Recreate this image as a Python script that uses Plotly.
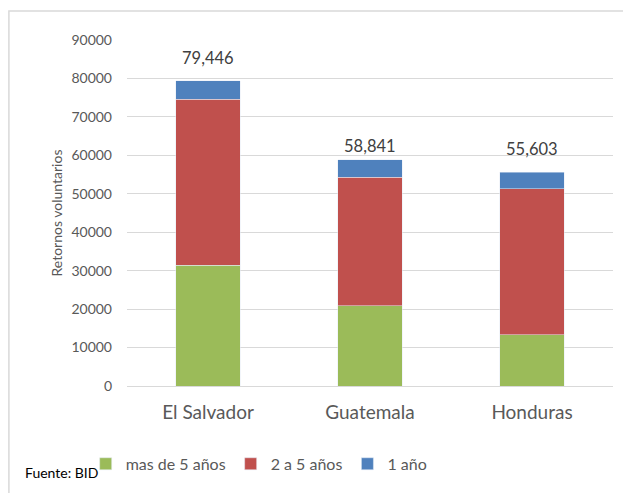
"""Retornos voluntarios por país, barras apiladas."""

import plotly.graph_objects as go

paises = ['El Salvador', 'Guatemala', 'Honduras']
mas_de_5 = [31370, 20890, 13270]
dos_a_5 = [43190, 33410, 38060]
un_ano = [4886, 4541, 4273]
totales = [79446, 58841, 55603]
etiquetas = ['79,446', '58,841', '55,603']

FONT = 'Lato'
GRIS = '#595959'
DESPLAZ = [11, 2, 11]  # separación de cada etiqueta sobre su barra

fig = go.Figure()
fig.add_trace(go.Bar(x=paises, y=mas_de_5, name='mas de 5 años', marker_color='#9bbb59'))
fig.add_trace(go.Bar(x=paises, y=dos_a_5, name='2 a 5 años', marker_color='#c0504d'))
fig.add_trace(go.Bar(x=paises, y=un_ano, name='1 año', marker_color='#4f81bd'))

for pais, total, texto, dy in zip(paises, totales, etiquetas, DESPLAZ):
    fig.add_annotation(x=pais, y=total, text=texto, showarrow=False,
                       yanchor='bottom', yshift=dy,
                       font=dict(family=FONT, size=16.5, color='#404040'))

fig.add_annotation(xref='paper', yref='paper', x=-0.215, y=-0.25,
                   text='Fuente: BID', showarrow=False,
                   xanchor='left', yanchor='middle',
                   font=dict(family=FONT, size=14, color='#000000'))

# marco del gráfico
fig.add_shape(type='rect', xref='paper', yref='paper',
              x0=-0.243, y0=-0.6, x1=1.2, y1=1.084,
              line=dict(color='#d9d9d9', width=1.5), layer='above')

fig.update_layout(
    width=631, height=493,
    barmode='stack', bargap=0.6,
    plot_bgcolor='white', paper_bgcolor='white',
    margin=dict(l=119, r=26, t=32, b=115),
    font=dict(family=FONT, color=GRIS),
    showlegend=True,
    legend=dict(orientation='h', traceorder='normal',
                x=-0.085, y=-0.225, xanchor='left', yanchor='middle',
                font=dict(family=FONT, size=16, color=GRIS),
                itemwidth=30),
)
fig.update_yaxes(range=[0, 90000], dtick=10000, tickformat='d', showgrid=True,
                 gridcolor='#d9d9d9', gridwidth=1, zeroline=False,
                 showline=False, ticks='', ticklabelstandoff=14,
                 tickfont=dict(family=FONT, size=14, color=GRIS),
                 title=dict(text='Retornos voluntarios', standoff=5,
                            font=dict(family=FONT, size=14, color=GRIS)))
fig.update_xaxes(showline=True, linecolor='#d9d9d9', linewidth=1,
                 ticks='', ticklabelstandoff=9,
                 tickfont=dict(family=FONT, size=19, color=GRIS))

fig.write_html("out.html")
